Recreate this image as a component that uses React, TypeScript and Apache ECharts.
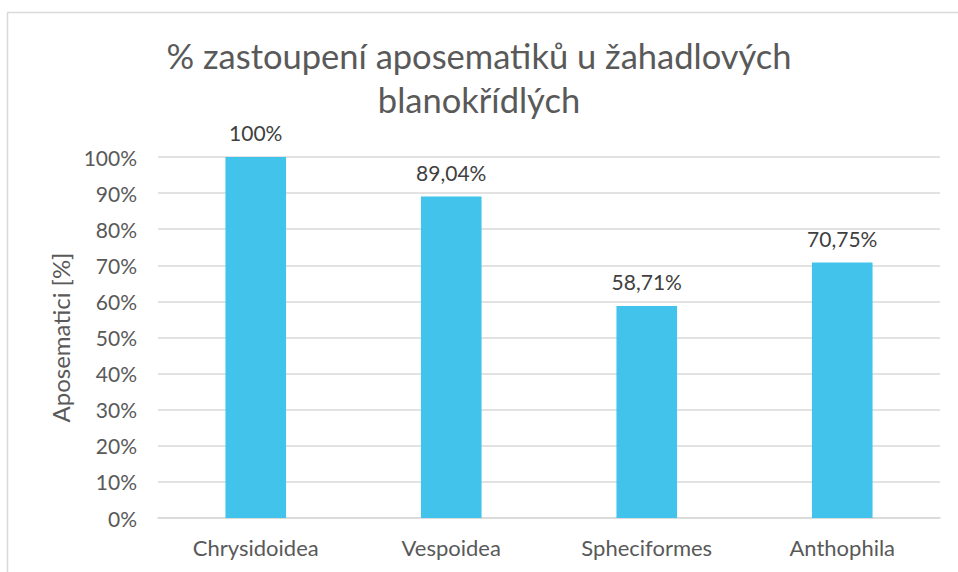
import React, { useEffect, useRef } from "react";
import * as echarts from "echarts";

const categories = ["Chrysidoidea", "Vespoidea", "Spheciformes", "Anthophila"];
const values = [100, 89.04, 58.71, 70.75];
const yTicks = { min: 0, max: 100, interval: 10 };
const titleText = "% zastoupení aposematiků u žahadlových\nblanokřídlých";
const yAxisName = "Aposematici [%]";

const FONT = "Lato";

export default function App() {
  const ref = useRef<HTMLDivElement>(null);
  useEffect(() => {
    if (!ref.current) return;
    const chart = echarts.init(ref.current, null, { renderer: "svg" });
    chart.setOption({
      animation: false,
      backgroundColor: "#ffffff",
      title: {
        text: titleText,
        left: "center",
        top: 28,
        textStyle: {
          fontFamily: FONT,
          fontSize: 34.5,
          fontWeight: "normal",
          color: "#595959",
          lineHeight: 44,
        },
      },
      graphic: [
        {
          type: "rect",
          shape: { x: 7.5, y: 12.5, width: 1000, height: 600 },
          style: { fill: "none", stroke: "#D9D9D9", lineWidth: 1.5 },
          silent: true,
        },
      ],
      grid: { left: 158, right: 18, top: 157, bottom: 54, containLabel: false },
      xAxis: {
        type: "category",
        data: categories,
        axisLine: { show: true, lineStyle: { color: "#D9D9D9", width: 1.5 } },
        axisTick: { show: false },
        axisLabel: {
          fontFamily: FONT,
          fontSize: 22,
          color: "#595959",
          margin: 18,
        },
      },
      yAxis: {
        type: "value",
        min: yTicks.min,
        max: yTicks.max,
        interval: yTicks.interval,
        name: yAxisName,
        nameLocation: "middle",
        nameRotate: 90,
        nameGap: 86,
        nameTextStyle: { fontFamily: FONT, fontSize: 24, color: "#595959" },
        axisLine: { show: false },
        axisTick: { show: false },
        splitLine: { lineStyle: { color: "#D9D9D9", width: 1.5 } },
        axisLabel: {
          fontFamily: FONT,
          fontSize: 21,
          color: "#595959",
          margin: 21,
          formatter: "{value}%",
        },
      },
      series: [
        {
          type: "bar",
          data: values,
          barWidth: "31%",
          itemStyle: { color: "#41C3EC" },
          label: {
            show: true,
            position: "top",
            distance: 14,
            fontFamily: FONT,
            fontSize: 21,
            color: "#404040",
            formatter: (p: any) => String(p.value).replace(".", ",") + "%",
          },
        },
      ],
    });
    return () => chart.dispose();
  }, []);
  return (
    <div
      ref={ref}
      style={{ position: "fixed", left: 0, top: 0, width: 958, height: 572 }}
    />
  );
}
